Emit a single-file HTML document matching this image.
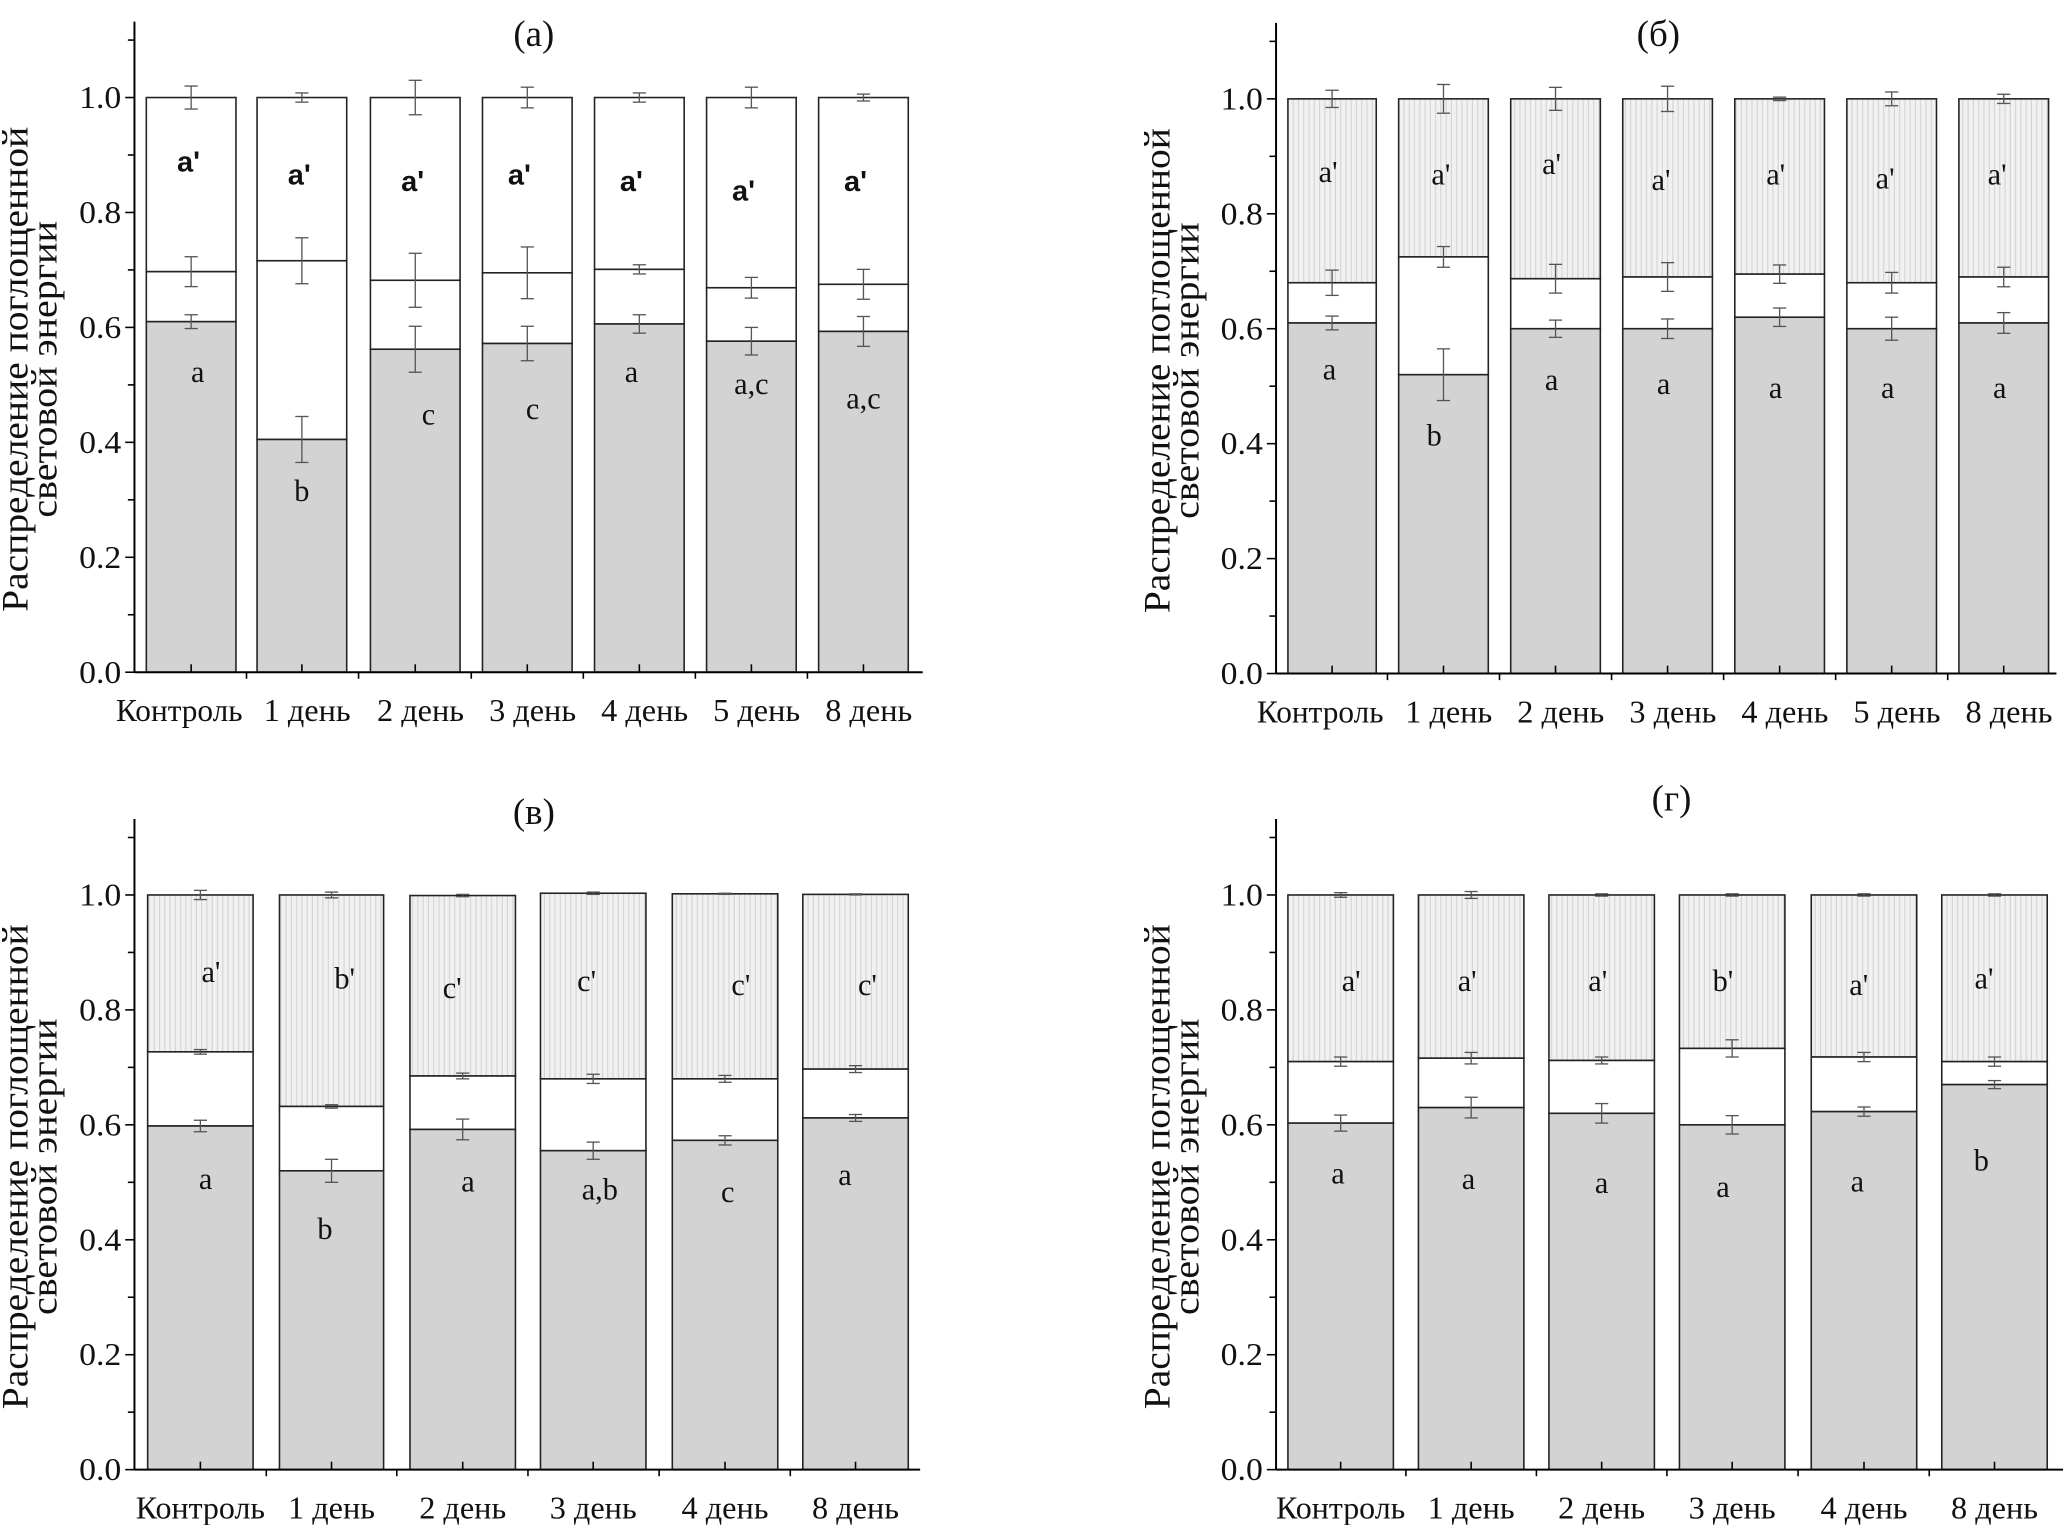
<!DOCTYPE html>
<html><head><meta charset="utf-8"><style>
html,body{margin:0;padding:0;background:#fff;}
svg{display:block;}
</style></head><body>
<svg id="s" width="2067" height="1525" viewBox="0 0 1568 1157" preserveAspectRatio="none" xmlns="http://www.w3.org/2000/svg" font-family="'Liberation Serif', 'Times New Roman', serif">
<defs>
<pattern id="h" width="4" height="10" patternUnits="userSpaceOnUse">
<rect width="4" height="10" fill="#f1f1f1"/><line x1="1" y1="0" x2="1" y2="10" stroke="#d2d2d2" stroke-width="0.8"/>
</pattern>
</defs>
<g id="g" font-family="'Liberation Serif', serif" fill="#111"></g>
</svg>
<script>
var P=[
{ax:102,y0:510,y1:74,xend:700,title:"(a)",tx:405,ty:35,hatch:false,bold:true,top:true,
 bars:[[111,179],[195,263],[281,349],[366,434],[451,519],[536,604],[621,689]],
 labs:["Контроль","1 день","2 день","3 день","4 день","5 день","8 день"],
 b:[.61,.405,.562,.572,.606,.576,.593],m:[.697,.716,.682,.695,.701,.669,.675],
 eb:[.012,.04,.04,.03,.016,.024,.026],em:[.026,.04,.047,.045,.008,.018,.026],et:[.02,.008,.03,.018,.008,.018,.006],
 tl:["a'","a'","a'","a'","a'","a'","a'"],tly:[130,140,145,140,145,152,145],tdx:[-2,-2,-2,-6,-6,-6,-6],
 bl:["a","b","c","c","a","a,c","a,c"],bly:[290,380,322,318,290,299,310],bdx:[5,0,10,4,-6,0,0]},
{ax:968,y0:511,y1:75,xend:1560,title:"(б)",tx:1258,ty:35,hatch:true,top:true,
 bars:[[977,1044],[1061,1129],[1146,1214],[1231,1299],[1316,1384],[1401,1469],[1486,1554]],
 labs:["Контроль","1 день","2 день","3 день","4 день","5 день","8 день"],
 b:[.61,.52,.60,.60,.62,.60,.61],m:[.68,.725,.687,.69,.695,.68,.69],
 eb:[.012,.045,.015,.017,.016,.02,.018],em:[.022,.018,.025,.025,.016,.018,.017],et:[.015,.025,.02,.022,.003,.012,.008],
 tl:["a'","a'","a'","a'","a'","a'","a'"],tly:[138,140,132,144,140,143,140],tdx:[-3,-2,-3,-5,-3,-5,-5],
 bl:["a","b","a","a","a","a","a"],bly:[288,338,296,299,302,302,302],bdx:[-2,-7,-3,-3,-3,-3,-3]},
{ax:102,y0:1115,y1:679,xend:698,title:"(в)",tx:405,ty:625,hatch:true,
 bars:[[112,192],[212,291],[311,391],[410,490],[510,590],[609,689]],
 labs:["Контроль","1 день","2 день","3 день","4 день","8 день"],
 b:[.598,.52,.592,.555,.573,.612],m:[.727,.632,.685,.68,.68,.697],t:[1,1,.999,1.003,1.002,1.001],
 eb:[.01,.02,.018,.015,.008,.006],em:[.004,.003,.005,.008,.006,.006],et:[.008,.005,.002,.002,.001,.001],
 tl:["a'","b'","c'","c'","c'","c'"],tly:[745,750,757,752,755,755],tdx:[8,10,-8,-5,12,9],
 bl:["a","b","a","a,b","c","a"],bly:[902,940,904,910,912,899],bdx:[4,-5,4,5,2,-8]},
{ax:968,y0:1115,y1:679,xend:1565,title:"(г)",tx:1268,ty:615,hatch:true,
 bars:[[977,1057],[1076,1156],[1175,1255],[1274,1354],[1374,1454],[1473,1553]],
 labs:["Контроль","1 день","2 день","3 день","4 день","8 день"],
 b:[.603,.63,.62,.60,.623,.67],m:[.71,.716,.712,.733,.718,.71],t:[1,1,1,1,1,1],
 eb:[.014,.018,.017,.016,.008,.007],em:[.008,.01,.006,.015,.008,.008],et:[.004,.006,.002,.002,.002,.002],
 tl:["a'","a'","a'","b'","a'","a'"],tly:[752,752,752,752,755,750],tdx:[8,-3,-3,-7,-4,-8],
 bl:["a","a","a","a","a","b"],bly:[898,902,905,908,904,888],bdx:[-2,-2,0,-7,-5,-10]}
];
var h="";
var SER='font-family="Liberation Serif, serif"';
function L(x1,y1,x2,y2,c,w){h+='<line x1="'+x1+'" y1="'+y1+'" x2="'+x2+'" y2="'+y2+'" stroke="'+(c||"#000")+'" stroke-width="'+(w||1.2)+'"/>';}
function T(x,y,s,sz,a,ex){h+='<text x="'+x+'" y="'+y+'" font-size="'+sz+'" text-anchor="'+(a||"middle")+'" '+(ex||SER)+'>'+s+'</text>';}
P.forEach(function(p){
 var k=(p.y0-p.y1);function Y(v){return p.y0-v*k;}
 p.bars.forEach(function(bb,i){
  var x=bb[0],w=bb[1]-bb[0],cx=(bb[0]+bb[1])/2;
  var top=p.t?p.t[i]:1;
  h+='<rect x="'+x+'" y="'+Y(top)+'" width="'+w+'" height="'+(Y(p.m[i])-Y(top))+'" fill="'+(p.hatch?"url(#h)":"#fff")+'" stroke="#222" stroke-width="1.2"/>';
  h+='<rect x="'+x+'" y="'+Y(p.m[i])+'" width="'+w+'" height="'+(Y(p.b[i])-Y(p.m[i]))+'" fill="#fff" stroke="#222" stroke-width="1.2"/>';
  h+='<rect x="'+x+'" y="'+Y(p.b[i])+'" width="'+w+'" height="'+(p.y0-Y(p.b[i]))+'" fill="#d3d3d3" stroke="#222" stroke-width="1.2"/>';
  [[p.b[i],p.eb[i]],[p.m[i],p.em[i]],[top,p.et[i]]].forEach(function(e){
   var a=Y(e[0]+e[1]),c=Y(e[0]-e[1]);L(cx,a,cx,c,"#555",1);L(cx-5,a,cx+5,a,"#555",1);L(cx-5,c,cx+5,c,"#555",1);});
  T(cx+p.tdx[i],p.tly[i],p.tl[i],p.bold?22:23,"middle",p.bold?'font-weight="bold" font-family="Liberation Sans Narrow, Liberation Sans, sans-serif"':SER);
  T(cx+p.bdx[i],p.bly[i],p.bl[i],23);
  var isK=p.labs[i]=="Контроль";
  var lw=isK?(p.top?96:98):66;
  var dx=isK&&p.top?-9:(p.top?4:0);
  T(cx+dx,p.y0+37,p.labs[i],24,"middle",SER+' textLength="'+lw+'" lengthAdjust="spacingAndGlyphs"');
  L(cx,p.y0,cx,p.y0-6);
  if(i<p.bars.length-1){var mx=(bb[1]+p.bars[i+1][0])/2;L(mx,p.y0,mx,p.y0+5);}
 });
 L(p.ax,p.y0,p.xend,p.y0,"#000",1.5);
 L(p.ax,p.y0,p.ax,Y(1.1)-14,"#000",1.5);
 for(var j=0;j<=11;j++){var yy=Y(j/10);L(p.ax,yy,p.ax-(j%2?5:7),yy);}
 for(var j=0;j<=10;j+=2){T(p.ax-10,Y(j/10)+8,(j/10).toFixed(1),24,"end",SER+' textLength="32" lengthAdjust="spacingAndGlyphs"');}
 var mid=(p.y0+Y(1.1))/2+10;
 T(0,0,"Распределение поглощенной",28,"middle",SER+' textLength="368" lengthAdjust="spacingAndGlyphs" transform="translate('+(p.ax-81)+','+mid+') rotate(-90)"');
 T(0,0,"световой энергии",28,"middle",SER+' textLength="225" lengthAdjust="spacingAndGlyphs" transform="translate('+(p.ax-59)+','+mid+') rotate(-90)"');
 T(p.tx,p.ty,p.title,28);
});
document.getElementById("g").innerHTML=h;
</script>
</body></html>
